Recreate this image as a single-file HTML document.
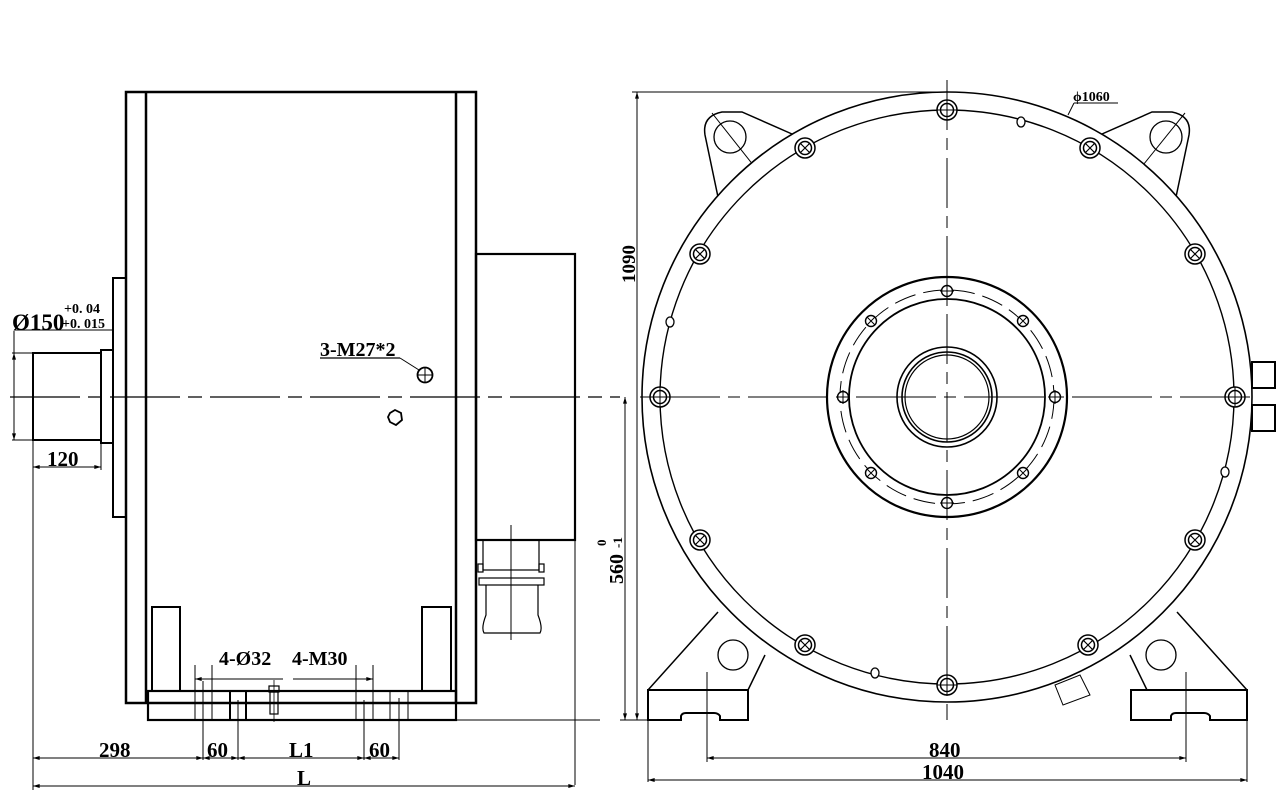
<!DOCTYPE html>
<html><head><meta charset="utf-8"><style>
html,body{margin:0;padding:0;background:#fff;width:1283px;height:802px;overflow:hidden}
svg{display:block}
text{font-family:"Liberation Serif",serif;font-weight:bold;fill:#000}
</style></head><body>
<svg width="1283" height="802" viewBox="0 0 1283 802" xmlns="http://www.w3.org/2000/svg">
<defs>
<marker id="a" viewBox="0 0 10 6" refX="10" refY="3" markerWidth="8" markerHeight="4" orient="auto-start-reverse"><path d="M0,0 L10,3 L0,6z" fill="#000"/></marker>
<g id="bolt"><circle r="10" fill="#fff" stroke="#000" stroke-width="1.5"/><circle r="6.5" fill="none" stroke="#000" stroke-width="1.5"/><path d="M-4.5,-4.5 L4.5,4.5 M-4.5,4.5 L4.5,-4.5" stroke="#000" stroke-width="1.2"/></g>
<g id="bolt2"><circle r="10" fill="#fff" stroke="#000" stroke-width="1.5"/><circle r="6.5" fill="none" stroke="#000" stroke-width="1.5"/><path d="M-10,0 H10 M0,-10 V10" stroke="#000" stroke-width="1"/></g>
<g id="hb"><circle r="5.5" fill="#fff" stroke="#000" stroke-width="1.4"/><path d="M-4,-4 L4,4 M-4,4 L4,-4" stroke="#000" stroke-width="1"/></g>
<g id="hb2"><circle r="5.5" fill="#fff" stroke="#000" stroke-width="1.4"/><path d="M-7,0 H7 M0,-7 V7" stroke="#000" stroke-width="1"/></g>
</defs>
<g fill="none" stroke="#000">
<!-- LEFT VIEW -->
<rect x="126" y="92" width="350" height="611" stroke-width="2.5"/>
<line x1="146" y1="92" x2="146" y2="703" stroke-width="2.5"/>
<line x1="456" y1="92" x2="456" y2="703" stroke-width="2.5"/>
<rect x="113" y="278" width="13" height="239" stroke-width="2"/>
<rect x="33" y="353" width="68" height="87" stroke-width="2"/>
<rect x="101" y="350" width="12" height="93" stroke-width="2"/>
<line x1="10" y1="397" x2="620" y2="397" stroke-width="1.2" stroke-dasharray="70,8,14,8"/>
<rect x="476" y="254" width="99" height="286" stroke-width="2.2"/>
<line x1="575" y1="540" x2="575" y2="785" stroke-width="1"/>
<!-- connector -->
<rect x="483" y="540" width="56" height="30" stroke-width="1.2"/>
<rect x="478" y="564" width="5" height="8" stroke-width="1.2"/>
<rect x="539" y="564" width="5" height="8" stroke-width="1.2"/>
<rect x="479" y="578" width="65" height="7" stroke-width="1.2"/>
<path d="M486,585 V615 Q481,628 484,633 H540 Q543,628 538,615 V585" stroke-width="1.2"/>
<line x1="511" y1="525" x2="511" y2="640" stroke-width="1"/>
<!-- feet and base -->
<rect x="152" y="607" width="28" height="84" stroke-width="2"/>
<rect x="422" y="607" width="29" height="84" stroke-width="2"/>
<rect x="148" y="691" width="308" height="29" stroke-width="2.2"/>
<line x1="456" y1="720" x2="600" y2="720" stroke-width="1"/>
<g stroke-width="1">
<line x1="195" y1="665" x2="195" y2="720"/><line x1="203" y1="681" x2="203" y2="760"/><line x1="212" y1="665" x2="212" y2="720"/>
<line x1="230" y1="691" x2="230" y2="720" stroke-width="2"/><line x1="238" y1="700" x2="238" y2="760"/><line x1="246" y1="691" x2="246" y2="720" stroke-width="2"/>
<line x1="356" y1="665" x2="356" y2="720"/><line x1="364" y1="700" x2="364" y2="760"/><line x1="373" y1="665" x2="373" y2="720"/>
<line x1="390" y1="691" x2="390" y2="720"/><line x1="399" y1="698" x2="399" y2="760"/><line x1="408" y1="691" x2="408" y2="720"/>
<line x1="195" y1="679" x2="212" y2="679" marker-start="url(#a)"/>
<line x1="212" y1="679" x2="283" y2="679"/>
<line x1="293" y1="679" x2="373" y2="679"/><line x1="356" y1="679" x2="373" y2="679" marker-end="url(#a)"/>
</g>
<rect x="269" y="686" width="10" height="6" stroke-width="1.2"/>
<rect x="270" y="692" width="8" height="22" stroke-width="1.2"/>
<line x1="274" y1="680" x2="274" y2="722" stroke-width="0.8"/>
<line x1="264" y1="691" x2="286" y2="691" stroke-width="2"/>
<!-- 3-M27 -->
<circle cx="425" cy="375" r="7.5" stroke-width="1.8"/>
<path d="M418,375 H432 M425,368 V382" stroke-width="1"/>
<line x1="320" y1="358" x2="400" y2="358" stroke-width="1.2"/>
<line x1="400" y1="358" x2="419" y2="370" stroke-width="1"/>
<polygon points="390,413 395,410 401,413 402,420 396,425 390,422 388,417" stroke-width="1.8"/>
<!-- shaft dims -->
<g stroke-width="1">
<line x1="12" y1="353" x2="33" y2="353"/><line x1="12" y1="440" x2="33" y2="440"/>
<line x1="14" y1="331" x2="14" y2="440"/><line x1="14" y1="330" x2="113" y2="330"/>
<line x1="14" y1="353" x2="14" y2="440" marker-start="url(#a)" marker-end="url(#a)"/>
<line x1="33" y1="440" x2="33" y2="790"/><line x1="101" y1="443" x2="101" y2="470"/>
<line x1="33" y1="467" x2="101" y2="467" marker-start="url(#a)" marker-end="url(#a)"/>
<line x1="33" y1="758" x2="203" y2="758" marker-start="url(#a)" marker-end="url(#a)"/>
<line x1="203" y1="758" x2="238" y2="758" marker-start="url(#a)" marker-end="url(#a)"/>
<line x1="238" y1="758" x2="364" y2="758" marker-start="url(#a)" marker-end="url(#a)"/>
<line x1="364" y1="758" x2="399" y2="758" marker-start="url(#a)" marker-end="url(#a)"/>
<line x1="33" y1="786" x2="575" y2="786" marker-start="url(#a)" marker-end="url(#a)"/>
</g>
<!-- RIGHT VIEW -->
<g stroke-width="1.5">
<path d="M718,197 L705,135 Q702,116 722,112 L742,112 L792,134"/>
<path d="M1176,197 L1189,135 Q1192,116 1172,112 L1152,112 L1102,134"/>
<path d="M648,690 L718,612 M748,690 L765,655"/>
<path d="M1247,690 L1177,612 M1147,690 L1130,655"/>
<path d="M648,690 H748 V720 H720 V716 Q718,713 714,713 H686 Q682,713 681,716 V720 H648 Z" stroke-width="2"/>
<path d="M1131,690 H1247 V720 H1210 V716 Q1208,713 1204,713 H1176 Q1172,713 1171,716 V720 H1131 Z" stroke-width="2"/>
</g>
<circle cx="730" cy="137" r="16" stroke-width="1.3"/>
<circle cx="1166" cy="137" r="16" stroke-width="1.3"/>
<circle cx="733" cy="655" r="15" stroke-width="1.3"/>
<circle cx="1161" cy="655" r="15" stroke-width="1.3"/>
<line x1="712" y1="113" x2="769" y2="185" stroke-width="1"/>
<line x1="1185" y1="113" x2="1127" y2="185" stroke-width="1"/>
<path d="M1055,685 L1080,675 L1090,695 L1063,705 Z" fill="#fff" stroke-width="1"/>
<circle cx="947" cy="397" r="305" fill="#fff" stroke-width="1.6"/>
<circle cx="947" cy="397" r="287" stroke-width="1.4"/>
<rect x="1252" y="362" width="23" height="26" stroke-width="2"/>
<rect x="1252" y="405" width="23" height="26" stroke-width="2"/>
<!-- hub -->
<circle cx="947" cy="397" r="120" stroke-width="2.2"/>
<circle cx="947" cy="397" r="107" stroke-width="1" stroke-dasharray="22,8"/>
<circle cx="947" cy="397" r="98" stroke-width="1.8"/>
<circle cx="947" cy="397" r="50" stroke-width="1.6"/>
<circle cx="947" cy="397" r="45" stroke-width="1.6"/>
<circle cx="947" cy="397" r="42" stroke-width="1.2"/>
<line x1="947" y1="80" x2="947" y2="720" stroke-width="1" stroke-dasharray="50,8,12,8"/>
<line x1="640" y1="397" x2="1250" y2="397" stroke-width="1" stroke-dasharray="80,8,12,8"/>
<g stroke-width="1">
<line x1="632" y1="92" x2="947" y2="92"/>
<line x1="637" y1="92" x2="637" y2="720" marker-start="url(#a)" marker-end="url(#a)"/>
<line x1="620" y1="720" x2="648" y2="720"/>
<line x1="625" y1="397" x2="625" y2="720" marker-start="url(#a)" marker-end="url(#a)"/>
<line x1="707" y1="672" x2="707" y2="762"/><line x1="1186" y1="672" x2="1186" y2="762"/>
<line x1="648" y1="720" x2="648" y2="782"/><line x1="1247" y1="720" x2="1247" y2="782"/>
<line x1="707" y1="758" x2="1186" y2="758" marker-start="url(#a)" marker-end="url(#a)"/>
<line x1="648" y1="780" x2="1247" y2="780" marker-start="url(#a)" marker-end="url(#a)"/>
<line x1="1068" y1="115" x2="1074" y2="103"/><line x1="1074" y1="103" x2="1118" y2="103"/>
</g>
</g>
<use href="#bolt2" x="947" y="110"/><use href="#bolt" x="805" y="148"/><use href="#bolt" x="1090" y="148"/>
<use href="#bolt" x="700" y="254"/><use href="#bolt" x="1195" y="254"/>
<use href="#bolt2" x="660" y="397"/><use href="#bolt2" x="1235" y="397"/>
<use href="#bolt" x="700" y="540"/><use href="#bolt" x="1195" y="540"/>
<use href="#bolt" x="805" y="645"/><use href="#bolt" x="1088" y="645"/><use href="#bolt2" x="947" y="685"/>
<g fill="#fff" stroke="#000" stroke-width="1.3">
<ellipse cx="1021" cy="122" rx="4" ry="5"/><ellipse cx="670" cy="322" rx="4" ry="5"/>
<ellipse cx="1225" cy="472" rx="4" ry="5"/><ellipse cx="875" cy="673" rx="4" ry="5"/>
</g>
<use href="#hb2" x="947" y="291"/><use href="#hb" x="871" y="321"/><use href="#hb" x="1023" y="321"/>
<use href="#hb2" x="843" y="397"/><use href="#hb2" x="1055" y="397"/>
<use href="#hb" x="871" y="473"/><use href="#hb" x="1023" y="473"/><use href="#hb2" x="947" y="503"/>
<text x="12" y="330" font-size="23">Ø150</text>
<text x="64" y="313" font-size="14">+0. 04</text>
<text x="62" y="328" font-size="14">+0. 015</text>
<text x="47" y="466" font-size="21">120</text>
<text x="320" y="356" font-size="20">3-M27*2</text>
<text x="219" y="665" font-size="20">4-Ø32</text>
<text x="292" y="665" font-size="20">4-M30</text>
<text x="99" y="757" font-size="21">298</text>
<text x="207" y="757" font-size="21">60</text>
<text x="289" y="757" font-size="21">L1</text>
<text x="369" y="757" font-size="21">60</text>
<text x="297" y="785" font-size="21">L</text>
<text x="929" y="757" font-size="21">840</text>
<text x="922" y="779" font-size="21">1040</text>
<text transform="translate(635,283) rotate(-90)" font-size="19" font-family="Liberation Sans" font-weight="bold">1090</text>
<text transform="translate(623,584) rotate(-90)" font-size="20" font-family="Liberation Sans" font-weight="bold">560</text>
<text transform="translate(606,546) rotate(-90)" font-size="13" font-family="Liberation Sans" font-weight="bold">0</text>
<text transform="translate(622,548) rotate(-90)" font-size="13" font-family="Liberation Sans" font-weight="bold">-1</text>
<text x="1073" y="101" font-size="14" font-family="Liberation Sans" font-weight="normal">ϕ1060</text>
</svg>
</body></html>
